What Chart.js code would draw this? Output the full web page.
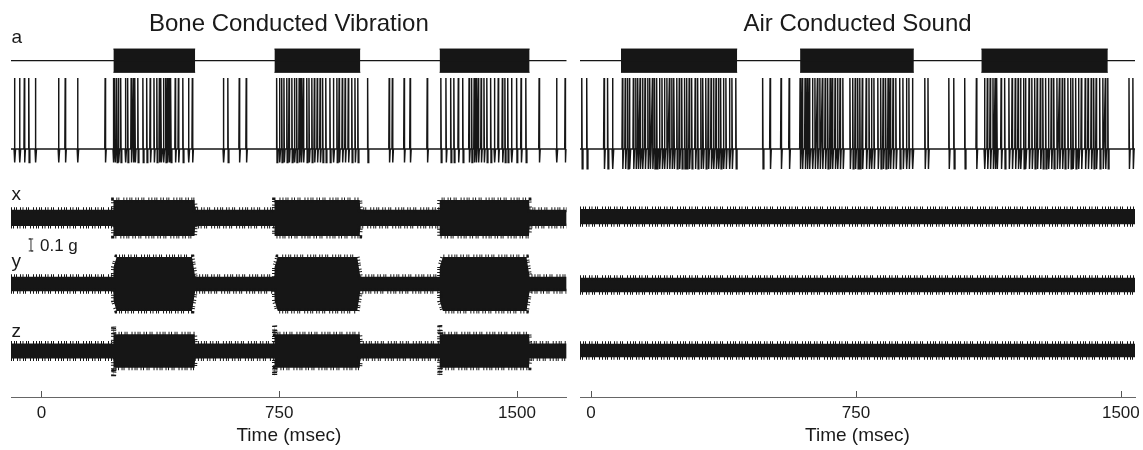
<!DOCTYPE html>
<html><head><meta charset="utf-8">
<script src="https://cdn.jsdelivr.net/npm/chart.js@4.4.1/dist/chart.umd.min.js"></script>
<style>
html,body{margin:0;padding:0;background:#fff;}
#wrap{position:relative;width:1143px;height:450px;overflow:hidden;}
canvas{position:absolute;top:0;display:block;}
#cL{left:0;}
#cR{left:572px;}
</style></head><body>
<div id="wrap"><canvas id="cL" width="572" height="450"></canvas><canvas id="cR" width="571" height="450"></canvas></div>
<script>
// ---------------- data ----------------
const panelTitles = ['Bone Conducted Vibration', 'Air Conducted Sound'];
const axisTitle = 'Time (msec)';
const tickLabels = [0, 750, 1500];
const rangeL = [-96, 1657];          // ms visible in left panel
const rangeR = [-31, 1540];          // ms visible in right panel
const stimOnL = [227, 735, 1256];
const stimOffL = [485, 1006, 1540];
const stimOnR = [85, 592, 1105];
const stimOffR = [414, 914, 1463];
// spike times (ms), neural trace "a"
const spikesL = [-85,-69,-54,-40,-19,54,75,114,201,
  227,232,238,243,250,265,272,283,290,295,304,320,332,343,355,364,372,377,385,392,397,403,408,422,432,446,464,476,
  574,588,624,646,
  742,751,758,765,774,781,790,798,805,813,819,826,837,844,853,861,870,879,887,897,910,921,932,939,949,958,968,979,989,998,
  1029,1097,1107,1144,1163,1217,
  1260,1276,1291,1301,1315,1329,1349,1357,1365,1371,1378,1387,1396,1405,1417,1429,1441,1454,1462,1471,1483,1499,1513,1528,
  1570,1625,1652];
const spikesR = [-26,-12,37,47,61,
  89,97,104,109,120,127,133,139,146,153,161,167,174,180,186,194,201,208,215,222,229,235,243,250,257,265,271,278,285,295,302,311,317,325,332,340,347,354,361,367,375,382,392,399,410,
  486,507,538,561,
  592,598,606,612,618,627,634,641,648,655,663,670,677,683,691,698,705,713,733,741,748,755,761,768,779,787,794,801,812,820,827,834,841,847,855,863,874,883,893,900,910,
  945,954,1013,1027,1058,1091,
  1114,1122,1130,1138,1144,1149,1161,1171,1183,1192,1201,1209,1216,1225,1230,1240,1248,1256,1263,1272,1279,1287,1295,1303,1310,1319,1326,1334,1341,1350,1358,1364,1372,1380,1388,1399,1407,1416,1423,1430,1440,1449,1456,1463,
  1523,1534];
const spikeTrough = [-0.19, -0.28];  // after-hyperpolarisation, relative to spike height (left, right)
// accelerometer traces x, y, z : half-width of noise band (g)
const accelNames = ['x', 'y', 'z'];
const accelRestL = [0.068, 0.060, 0.063];
const accelStimL = [0.150, 0.225, 0.140];
const accelOnsetPeakL = [0.150, 0.225, 0.215];
const accelRiseL = [1, 9, 1];        // ms
const accelRestR = [0.063, 0.060, 0.056];
const scaleBarG = 0.1;

// ---------------- layout (pixels / offsets, not data) ----------------
const FONT = '"Liberation Sans", Arial, Helvetica, sans-serif';
const AREA_TOP = 38.8, AREA_BOTTOM = 397;
const G_PX = 120;                    // px per g
const V_BASE_PX = 149, V_PX = 71;    // neural baseline pixel, px per unit spike
const centersL = [1.492, 0.942, 0.383];
const centersR = [1.503, 0.933, 0.388];
const labelGap = [0.15, 0.145, 0.12];
const STIM_LEVEL = 1.244, STIM_HALF = 0.164;
const SB_X = -33, SB_BASE = 1.217, SB_SERIF = 7;
const INK = '#161616';
const FRINGE = [1, 2, 1, 1, 1, 3, 1, 1.5, 1, 2.5, 1, 1, 1, 4, 1, 2];

function neuralPoints(spikes, range, trough) {
  const pts = [{x: range[0], y: 0}];
  spikes.forEach(t => {
    pts.push({x: t - 1.2, y: 0}, {x: t, y: 1}, {x: t + 1.3, y: trough}, {x: t + 3.4, y: 0});
  });
  pts.push({x: range[1], y: 0});
  return pts;
}

function envelope(range, on, off, rest, stim, peak, rise) {
  const pts = [{x: range[0], h: rest}];
  on.forEach((t, i) => {
    const first = rise > 2 ? rest + (stim - rest) * 0.5 : peak;
    pts.push({x: t, h: rest}, {x: t + 0.6, h: first},
             {x: t + rise + 1.5, h: stim}, {x: off[i] - rise - 1, h: stim}, {x: off[i], h: rest});
  });
  pts.push({x: range[1], h: rest});
  return pts;
}

function buildDatasets(side) {
  const L = side === 'L';
  const range = L ? rangeL : rangeR;
  const on = L ? stimOnL : stimOnR, off = L ? stimOffL : stimOffR;
  const ds = [];
  ds.push({data: neuralPoints(L ? spikesL : spikesR, range, spikeTrough[L ? 0 : 1]), yAxisID: 'yv',
           borderColor: INK, borderWidth: 1.45, fill: false});
  ds.push({data: [{x: range[0], y: STIM_LEVEL}, {x: range[1], y: STIM_LEVEL}], yAxisID: 'yv',
           borderColor: INK, borderWidth: 1.2, fill: false});
  on.forEach((t, i) => {
    ds.push({data: [{x: t, y: STIM_LEVEL + STIM_HALF}, {x: off[i], y: STIM_LEVEL + STIM_HALF}], yAxisID: 'yv',
             borderColor: INK, borderWidth: 1, fill: false});
    ds.push({data: [{x: t, y: STIM_LEVEL - STIM_HALF}, {x: off[i], y: STIM_LEVEL - STIM_HALF}], yAxisID: 'yv',
             borderColor: INK, borderWidth: 1, fill: '-1', backgroundColor: INK});
  });
  const centers = L ? centersL : centersR;
  accelNames.forEach((n, k) => {
    const env = L ? envelope(range, on, off, accelRestL[k], accelStimL[k], accelOnsetPeakL[k], accelRiseL[k])
                  : envelope(range, [], [], accelRestR[k], accelRestR[k], accelRestR[k], 1);
    const c = centers[k];
    ds.push({data: env.map(p => ({x: p.x, y: c + p.h})), yAxisID: 'yg', borderColor: INK,
             borderWidth: 5, borderDash: FRINGE, fill: false});
    ds.push({data: env.map(p => ({x: p.x, y: c - p.h})), yAxisID: 'yg', borderColor: INK,
             borderWidth: 5, borderDash: FRINGE, borderDashOffset: 3, fill: '-1', backgroundColor: INK});
  });
  if (L) {
    const b = SB_BASE, t = SB_BASE + scaleBarG;
    ds.push({data: [{x: SB_X - SB_SERIF, y: b}, {x: SB_X + SB_SERIF, y: b}, {x: SB_X, y: b}, {x: SB_X, y: t},
                    {x: SB_X - SB_SERIF, y: t}, {x: SB_X + SB_SERIF, y: t}],
             yAxisID: 'yg', borderColor: '#333', borderWidth: 1, fill: false});
  }
  return ds;
}

const decor = {
  id: 'decor',
  afterDraw(chart, args, opts) {
    const ctx = chart.ctx, xs = chart.scales.x, yg = chart.scales.yg, yv = chart.scales.yv;
    ctx.save();
    ctx.strokeStyle = '#555';
    ctx.lineWidth = 1;
    xs.ticks.forEach(t => {
      const px = Math.round(xs.getPixelForValue(t.value)) + 0.5;
      ctx.beginPath(); ctx.moveTo(px, xs.top); ctx.lineTo(px, xs.top - 6); ctx.stroke();
    });
    if (opts.labels) {
      ctx.fillStyle = '#1a1a1a';
      ctx.textAlign = 'left';
      ctx.textBaseline = 'alphabetic';
      ctx.font = '19px ' + FONT;
      const lx = chart.chartArea.left + 0.5;
      ctx.fillText('a', lx, yv.getPixelForValue(1.49));
      accelNames.forEach((n, k) => ctx.fillText(n, lx, yg.getPixelForValue(centersL[k] + labelGap[k])));
      ctx.font = '17px ' + FONT;
      ctx.fillText(scaleBarG + ' g', xs.getPixelForValue(SB_X) + 9, yg.getPixelForValue(SB_BASE) + 0.5);
    }
    ctx.restore();
  }
};

function makeChart(id, side) {
  const L = side === 'L';
  const range = L ? rangeL : rangeR;
  return new Chart(document.getElementById(id), {
    type: 'line',
    data: {datasets: buildDatasets(side)},
    options: {
      responsive: false, animation: false, devicePixelRatio: 1,
      layout: {padding: L ? {left: 11, right: 5.3, top: 0, bottom: 0} : {left: 8, right: 8, top: 0, bottom: 0}},
      elements: {point: {radius: 0}, line: {tension: 0}},
      plugins: {
        legend: {display: false}, tooltip: {enabled: false},
        title: {display: true, text: panelTitles[L ? 0 : 1], color: '#1a1a1a',
                font: {family: FONT, size: 24, weight: 'normal'}, padding: {top: 10, bottom: 0}},
        decor: {labels: L}
      },
      scales: {
        x: {
          type: 'linear', position: 'bottom', min: range[0], max: range[1],
          grid: {display: false, drawTicks: false},
          border: {display: true, color: '#666', width: 1},
          ticks: {autoSkip: false, maxRotation: 0, padding: 6, color: '#1a1a1a',
                  font: {family: FONT, size: 17}, callback: v => String(v)},
          title: {display: true, text: axisTitle, color: '#1a1a1a', font: {family: FONT, size: 19},
                  padding: {top: 0, bottom: 3}},
          afterBuildTicks: s => { s.ticks = tickLabels.map(v => ({value: v})); },
          afterFit: s => { s.height = 450 - AREA_BOTTOM; s.paddingLeft = 0; s.paddingRight = 0; }
        },
        yg: {type: 'linear', display: false, min: 0, max: (AREA_BOTTOM - AREA_TOP) / G_PX},
        yv: {type: 'linear', display: false, min: -(AREA_BOTTOM - V_BASE_PX) / V_PX, max: (V_BASE_PX - AREA_TOP) / V_PX}
      }
    },
    plugins: [decor]
  });
}

makeChart('cL', 'L');
makeChart('cR', 'R');
</script>
</body></html>
